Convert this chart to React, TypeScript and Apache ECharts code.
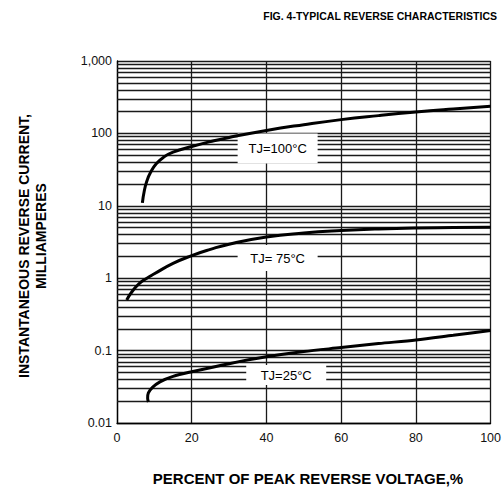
import React, { useEffect, useRef } from "react";
import * as echarts from "echarts";

// ---- data ----
const xTickValues = [0, 20, 40, 60, 80, 100];
const yTickValues = [0.01, 0.1, 1, 10, 100, 1000];
const yTickLabels = ["0.01", "0.1", "1", "10", "100", "1,000"];
const minorMultipliers = [2, 3, 4, 5, 6, 7, 8, 9];
const decadeStarts = [0.01, 0.1, 1, 10, 100];

const tj100X = [6.8, 7.3, 8, 9, 10.5, 12.5, 15, 20, 25, 30, 40, 50, 60, 70, 80, 90, 100];
const tj100Y = [11, 16, 22, 29, 38, 47, 55, 66, 77, 88, 110, 132, 155, 176, 197, 217, 237];

const tj75X = [2.6, 4, 6, 8, 10, 15, 20, 25, 30, 40, 50, 60, 70, 80, 90, 100];
const tj75Y = [0.5, 0.65, 0.85, 1.0, 1.15, 1.6, 2.05, 2.5, 2.95, 3.7, 4.2, 4.55, 4.8, 4.95, 5.0, 5.05];

const tj25X = [8.4, 8.2, 8.4, 9.5, 11.5, 15, 20, 30, 40, 50, 60, 70, 80, 90, 100];
const tj25Y = [0.0195, 0.022, 0.026, 0.031, 0.037, 0.044, 0.051, 0.066, 0.082, 0.097, 0.11, 0.125, 0.14, 0.163, 0.19];

const curveLabels = ["TJ=100°C", "TJ= 75°C", "TJ=25°C"];
const labelX = [43, 43, 45.3];
const labelY = [62, 1.9, 0.046];

const titleText = "FIG. 4-TYPICAL REVERSE CHARACTERISTICS";
const xTitle = "PERCENT OF PEAK REVERSE VOLTAGE,%";
const yTitle1 = "INSTANTANEOUS REVERSE CURRENT,";
const yTitle2 = "MILLIAMPERES";

const FONT = "Liberation Sans, Arial, sans-serif";
const GRID_COLOR = "#1a1a1a";

function pairs(xs: number[], ys: number[]) {
  return xs.map((x, i) => [x, ys[i]]);
}

export default function App() {
  const ref = useRef<HTMLDivElement>(null);
  useEffect(() => {
    if (!ref.current) return;
    const chart = echarts.init(ref.current, null, { renderer: "svg" });
    const minorLines = decadeStarts.flatMap((d) =>
      minorMultipliers.map((m) => ({ yAxis: +(m * d).toPrecision(3) }))
    );
    const boxSizes = [
      [80, 30],
      [80, 26],
      [80, 20],
    ];
    const curveStyle = { color: "#000", width: 3 };
    chart.setOption({
      animation: false,
      backgroundColor: "#fff",
      grid: { left: 117, right: 11, top: 61, bottom: 67, containLabel: false },
      xAxis: {
        type: "value",
        min: 0,
        max: 100,
        interval: 20,
        axisLine: { show: true, lineStyle: { color: "#000", width: 1.3 } },
        axisTick: { show: false },
        splitLine: { show: true, lineStyle: { color: GRID_COLOR, width: 1.3 } },
        axisLabel: {
          margin: 8,
          fontSize: 12.5,
          color: "#111",
          fontFamily: FONT,
          formatter: (v: number) => (xTickValues.includes(v) ? String(v) : ""),
        },
      },
      yAxis: {
        type: "log",
        logBase: 10,
        min: 0.01,
        max: 1000,
        axisLine: { show: true, lineStyle: { color: "#000", width: 1.3 } },
        axisTick: { show: false },
        splitLine: { show: true, lineStyle: { color: GRID_COLOR, width: 1.3 } },
        minorTick: { show: false },
        minorSplitLine: { show: false },
        axisLabel: {
          margin: 5,
          fontSize: 12.5,
          color: "#111",
          fontFamily: FONT,
          padding: [6, 0, 0, 0],
          formatter: (v: number) => {
            const i = yTickValues.findIndex((t) => Math.abs(t - v) / t < 1e-6);
            return i >= 0 ? yTickLabels[i] : "";
          },
        },
      },
      series: [
        {
          type: "line",
          data: [],
          z: 1,
          silent: true,
          markLine: {
            silent: true,
            z: 1,
            symbol: ["none", "none"],
            label: { show: false },
            lineStyle: { color: GRID_COLOR, width: 1.3, type: "solid" },
            data: minorLines,
          },
        },
        {
          type: "scatter",
          z: 4,
          silent: true,
          data: labelX.map((x, i) => ({
            value: [x, labelY[i]],
            symbolSize: boxSizes[i],
          })),
          symbol: "rect",
          itemStyle: { color: "#fff", opacity: 1 },
          label: {
            show: true,
            position: "inside",
            color: "#000",
            fontSize: 13,
            fontFamily: FONT,
            formatter: (p: any) => curveLabels[p.dataIndex],
          },
        },
        {
          type: "line",
          z: 6,
          data: pairs(tj100X, tj100Y),
          smooth: true,
          showSymbol: false,
          lineStyle: curveStyle,
        },
        {
          type: "line",
          z: 6,
          data: pairs(tj75X, tj75Y),
          smooth: true,
          showSymbol: false,
          lineStyle: curveStyle,
        },
        {
          type: "line",
          z: 6,
          data: pairs(tj25X, tj25Y),
          smooth: 0.3,
          showSymbol: false,
          lineStyle: curveStyle,
        },
      ],
      graphic: [
        {
          type: "text",
          x: 497,
          y: 16,
          style: {
            text: titleText,
            fill: "#000",
            font: `bold 10.5px ${FONT}`,
            textAlign: "right",
            textVerticalAlign: "middle",
          },
        },
        {
          type: "text",
          x: 308,
          y: 478,
          style: {
            text: xTitle,
            fill: "#000",
            font: `bold 15px ${FONT}`,
            textAlign: "center",
            textVerticalAlign: "middle",
          },
        },
        {
          type: "text",
          x: 24,
          y: 246,
          rotation: Math.PI / 2,
          style: {
            text: yTitle1,
            fill: "#000",
            font: `bold 14px ${FONT}`,
            textAlign: "center",
            textVerticalAlign: "middle",
          },
        },
        {
          type: "text",
          x: 41,
          y: 236,
          rotation: Math.PI / 2,
          style: {
            text: yTitle2,
            fill: "#000",
            font: `bold 14px ${FONT}`,
            textAlign: "center",
            textVerticalAlign: "middle",
          },
        },
      ],
    });
    return () => chart.dispose();
  }, []);
  return (
    <div
      ref={ref}
      style={{ width: 504, height: 490, position: "fixed", left: 0, top: 0 }}
    />
  );
}
